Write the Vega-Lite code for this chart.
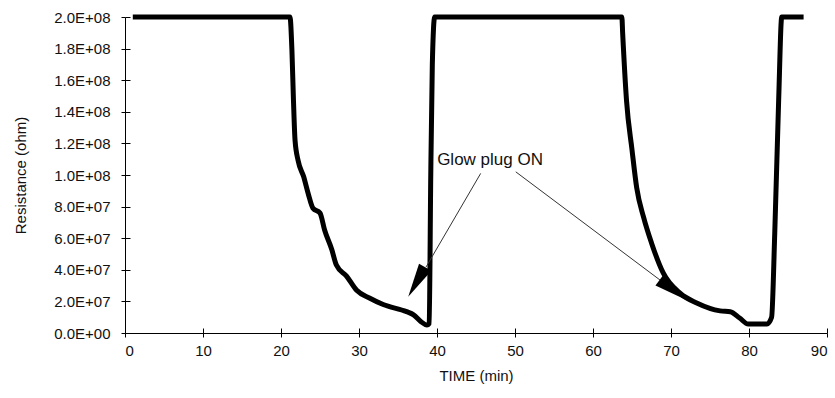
{
  "$schema": "https://vega.github.io/schema/vega-lite/v6.json",
  "width": 702,
  "height": 316,
  "autosize": {"type": "none"},
  "padding": {"left": 125, "top": 17, "right": 8, "bottom": 65},
  "background": "white",
  "config": {
    "view": {"stroke": null},
    "font": "Liberation Sans",
    "axis": {
      "grid": false,
      "domainColor": "black",
      "tickColor": "black",
      "labelColor": "#111",
      "titleColor": "#111",
      "labelFont": "Liberation Sans",
      "titleFont": "Liberation Sans",
      "titleFontWeight": "normal",
      "labelFontSize": 15,
      "titleFontSize": 15
    }
  },
  "resolve": {"axis": {"x": "independent", "y": "independent"}},
  "datasets": {
    "curve": [
      {"t": 1.0, "r": 200000000}, {"t": 5, "r": 200000000}, {"t": 10, "r": 200000000}, {"t": 15, "r": 200000000}, {"t": 20.5, "r": 200000000}, {"t": 21.15, "r": 200000000},
      {"t": 21.4, "r": 179000000}, {"t": 21.6, "r": 147000000}, {"t": 21.8, "r": 122000000}, {"t": 22.2, "r": 109000000}, {"t": 22.9, "r": 99000000}, {"t": 23.5, "r": 88000000}, {"t": 24.1, "r": 79000000}, {"t": 25.0, "r": 76000000}, {"t": 25.6, "r": 65000000}, {"t": 26.5, "r": 53000000}, {"t": 27.1, "r": 43000000}, {"t": 28.4, "r": 36000000}, {"t": 29.7, "r": 27000000}, {"t": 31.4, "r": 22000000}, {"t": 33.1, "r": 18000000}, {"t": 36.1, "r": 13500000}, {"t": 37.0, "r": 11500000}, {"t": 38.0, "r": 7000000}, {"t": 38.7, "r": 5000000}, {"t": 39.0, "r": 6000000},
      {"t": 39.2, "r": 100000000}, {"t": 39.4, "r": 170000000}, {"t": 39.7, "r": 200000000},
      {"t": 45, "r": 200000000}, {"t": 50, "r": 200000000}, {"t": 55, "r": 200000000}, {"t": 60, "r": 200000000}, {"t": 63.7, "r": 200000000},
      {"t": 63.8, "r": 190000000}, {"t": 64.3, "r": 147000000}, {"t": 65.0, "r": 116000000}, {"t": 65.6, "r": 92000000}, {"t": 66.5, "r": 73000000}, {"t": 67.5, "r": 57000000}, {"t": 69.0, "r": 38000000}, {"t": 71.2, "r": 25000000}, {"t": 73.3, "r": 19000000}, {"t": 76.3, "r": 14000000}, {"t": 77.6, "r": 13500000}, {"t": 78.8, "r": 9500000}, {"t": 79.9, "r": 5700000}, {"t": 82.3, "r": 5700000},
      {"t": 82.9, "r": 10000000}, {"t": 83.3, "r": 63000000}, {"t": 83.8, "r": 147000000}, {"t": 84.2, "r": 200000000}, {"t": 87.0, "r": 200000000}
    ],
    "arrows": [
      {"t1": 45.6, "r1": 101000000, "t2": 38.6, "r2": 41800000},
      {"t1": 50.1, "r1": 102000000, "t2": 68.6, "r2": 33500000}
    ],
    "heads": [
      {"t": 37.4, "r": 32300000, "dir": 210},
      {"t": 70.3, "r": 27200000, "dir": 127}
    ],
    "label": [
      {"t": 46.8, "r": 109500000, "text": "Glow plug ON"}
    ]
  },
  "layer": [
    {
      "data": {"name": "curve"},
      "mark": {"type": "line", "color": "black", "strokeWidth": 5, "strokeJoin": "round", "interpolate": "monotone"},
      "encoding": {
        "x": {
          "field": "t", "type": "quantitative",
          "scale": {"domain": [0, 90], "nice": false, "zero": false},
          "axis": {"values": [0, 10, 20, 30, 40, 50, 60, 70, 80, 90], "title": "TIME (min)", "tickSize": 4, "labelPadding": 6, "titlePadding": 10, "orient": "bottom"}
        },
        "y": {
          "field": "r", "type": "quantitative",
          "scale": {"domain": [0, 200000000], "nice": false},
          "axis": {
            "values": [0, 20000000, 40000000, 60000000, 80000000, 100000000, 120000000, 140000000, 160000000, 180000000, 200000000],
            "title": "Resistance (ohm)", "tickSize": 4, "labelPadding": 11, "titlePadding": 25, "orient": "left",
            "labelExpr": "datum.value == 0 ? '0.0E+00' : format(datum.value / pow(10, floor(log(datum.value) / LN10 + 1e-6)), '.1f') + 'E+' + (floor(log(datum.value) / LN10 + 1e-6) < 10 ? '0' : '') + floor(log(datum.value) / LN10 + 1e-6)"
          }
        }
      }
    },
    {
      "data": {"name": "arrows"},
      "mark": {"type": "rule", "color": "#333", "strokeWidth": 1},
      "encoding": {
        "x": {"field": "t1", "type": "quantitative", "axis": {"values": [0, 10, 20, 30, 40, 50, 60, 70, 80, 90], "tickSize": -5, "labels": false, "domain": false, "title": null, "orient": "bottom"}},
        "y": {"field": "r1", "type": "quantitative", "axis": {"values": [0, 20000000, 40000000, 60000000, 80000000, 100000000, 120000000, 140000000, 160000000, 180000000, 200000000], "tickSize": -5, "labels": false, "domain": false, "title": null, "orient": "left"}},
        "x2": {"field": "t2"},
        "y2": {"field": "r2"}
      }
    },
    {
      "data": {"name": "heads"},
      "mark": {"type": "point", "shape": "M0,-1L0.42,1L-0.42,1Z", "filled": true, "color": "black", "opacity": 1, "size": 1156},
      "encoding": {
        "x": {"field": "t", "type": "quantitative", "axis": null},
        "y": {"field": "r", "type": "quantitative", "axis": null},
        "angle": {"field": "dir", "type": "quantitative", "scale": null}
      }
    },
    {
      "data": {"name": "label"},
      "mark": {"type": "text", "fontSize": 17, "font": "Liberation Sans", "color": "#111", "align": "center", "baseline": "middle"},
      "encoding": {
        "x": {"field": "t", "type": "quantitative", "axis": null},
        "y": {"field": "r", "type": "quantitative", "axis": null},
        "text": {"field": "text"}
      }
    }
  ]
}
